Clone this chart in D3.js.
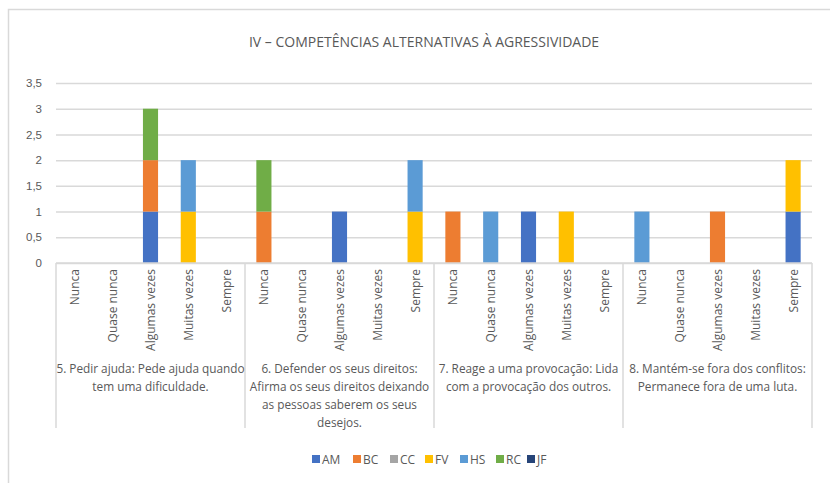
<!DOCTYPE html>
<html>
<head>
<meta charset="utf-8">
<script src="https://cdn.jsdelivr.net/npm/d3@7"></script>
<style>
  body { margin: 0; background: #fff; }
  svg { font-family: 'Open Sans', sans-serif; }
</style>
</head>
<body>
<div id="chart"></div>
<script>
// data
let groups = [
    ['5. Pedir ajuda: Pede ajuda quando', 'tem uma dificuldade.'],
    ['6. Defender os seus direitos:', 'Afirma os seus direitos deixando', 'as pessoas saberem os seus', 'desejos.'],
    ['7. Reage a uma provocação: Lida', 'com a provocação dos outros.'],
    ['8. Mantém-se fora dos conflitos:', 'Permanece fora de uma luta.']
]
let answers = ['Nunca', 'Quase nunca', 'Algumas vezes', 'Muitas vezes', 'Sempre']
let series = ['AM', 'BC', 'CC', 'FV', 'HS', 'RC', 'JF']
let colors = ['#4472C4', '#ED7D31', '#A5A5A5', '#FFC000', '#5B9BD5', '#70AD47', '#264478']
let yTicks = [0, 0.5, 1, 1.5, 2, 2.5, 3, 3.5]

// one array per series, 20 values: 4 groups x 5 answers
let AM = [0, 0, 1, 0, 0,  0, 0, 1, 0, 0,  0, 0, 1, 0, 0,  0, 0, 0, 0, 1]
let BC = [0, 0, 1, 0, 0,  1, 0, 0, 0, 0,  1, 0, 0, 0, 0,  0, 0, 1, 0, 0]
let CC = [0, 0, 0, 0, 0,  0, 0, 0, 0, 0,  0, 0, 0, 0, 0,  0, 0, 0, 0, 0]
let FV = [0, 0, 0, 1, 0,  0, 0, 0, 0, 1,  0, 0, 0, 1, 0,  0, 0, 0, 0, 1]
let HS = [0, 0, 0, 1, 0,  0, 0, 0, 0, 1,  0, 1, 0, 0, 0,  1, 0, 0, 0, 0]
let RC = [0, 0, 1, 0, 0,  1, 0, 0, 0, 0,  0, 0, 0, 0, 0,  0, 0, 0, 0, 0]
let JF = [0, 0, 0, 0, 0,  0, 0, 0, 0, 0,  0, 0, 0, 0, 0,  0, 0, 0, 0, 0]
let values = { AM, BC, CC, FV, HS, RC, JF }

let width = 830
let height = 483
let margin = { top: 83, right: 18, bottom: 220, left: 56 }
let plotW = width - margin.left - margin.right
let plotH = height - margin.top - margin.bottom
let textColor = '#595959'
let lineColor = '#d9d9d9'

let svg = d3.select('#chart').append('svg')
    .attr('width', width)
    .attr('height', height)

// outer frame
svg.append('rect')
    .attr('x', 8.5).attr('y', 9.5)
    .attr('width', width + 10).attr('height', height + 10)
    .attr('fill', 'none').attr('stroke', lineColor).attr('stroke-width', 1.5)

svg.append('text')
    .attr('x', 424).attr('y', 47)
    .attr('text-anchor', 'middle')
    .attr('fill', textColor)
    .style('font-size', '14px')
    .text('IV – COMPETÊNCIAS ALTERNATIVAS À AGRESSIVIDADE')

let g = svg.append('g')
    .attr('transform', 'translate(' + margin.left + ',' + margin.top + ')')

let keys = []
groups.forEach((grp, gi) => answers.forEach((a, ai) => keys.push(gi + '-' + ai)))

let table = keys.map((k, i) => {
    let row = { key: k }
    series.forEach(s => { row[s] = values[s][i] })
    return row
})

let x = d3.scaleBand().domain(keys).range([0, plotW]).paddingInner(0.6).paddingOuter(0.3)
let xGroup = d3.scaleBand().domain(d3.range(groups.length)).range([0, plotW])
let y = d3.scaleLinear().domain([0, 3.5]).range([plotH, 0])

// gridlines
g.append('g').attr('class', 'grid')
    .call(d3.axisLeft(y).tickValues(yTicks).tickSize(-plotW).tickFormat(''))
    .call(sel => sel.select('.domain').remove())
    .call(sel => sel.selectAll('line').attr('stroke', lineColor).attr('stroke-width', 1.5))

// y axis labels
g.append('g').attr('class', 'y-axis')
    .call(d3.axisLeft(y).tickValues(yTicks).tickSize(0).tickPadding(14)
        .tickFormat(d => String(d).replace('.', ',')))
    .call(sel => sel.select('.domain').remove())
    .call(sel => sel.selectAll('text').attr('fill', textColor).style('font-size', '11.5px'))

// stacked bars
let stack = d3.stack().keys(series)(table)
g.append('g').attr('class', 'bars')
    .selectAll('g')
    .data(stack)
    .enter()
    .append('g')
    .attr('fill', (d, i) => colors[i])
    .selectAll('rect')
    .data(d => d.filter(p => p[1] - p[0] > 0))
    .enter()
    .append('rect')
    .attr('x', d => x(d.data.key))
    .attr('y', d => y(d[1]))
    .attr('width', x.bandwidth())
    .attr('height', d => y(d[0]) - y(d[1]))

// category axis frame
let axisG = g.append('g').attr('class', 'x-axis')
axisG.append('line')
    .attr('x1', 0).attr('x2', plotW)
    .attr('y1', plotH).attr('y2', plotH)
    .attr('stroke', lineColor).attr('stroke-width', 1.5)
d3.range(groups.length + 1).forEach(i => {
    let xx = i < groups.length ? xGroup(i) : plotW
    axisG.append('line')
        .attr('x1', xx).attr('x2', xx)
        .attr('y1', plotH).attr('y2', plotH + 165)
        .attr('stroke', lineColor).attr('stroke-width', 1.5)
})

// answer labels (rotated)
axisG.selectAll('text.answer')
    .data(keys)
    .enter()
    .append('text')
    .attr('class', 'answer')
    .attr('transform', k => 'translate(' + (x(k) + x.bandwidth() / 2 + 4.5) + ',' + (plotH + 6) + ') rotate(-90)')
    .attr('text-anchor', 'end')
    .attr('fill', textColor)
    .style('font-size', '12px')
    .text(k => answers[+k.split('-')[1]])

// group labels
groups.forEach((lines, gi) => {
    let t = axisG.append('text')
        .attr('x', xGroup(gi) + xGroup.bandwidth() / 2)
        .attr('y', plotH + 110)
        .attr('text-anchor', 'middle')
        .attr('fill', textColor)
        .style('font-size', '11.8px')
    lines.forEach((ln, li) => {
        t.append('tspan')
            .attr('x', xGroup(gi) + xGroup.bandwidth() / 2)
            .attr('dy', li === 0 ? 0 : 18)
            .text(ln)
    })
})

// legend
let legendX = [312, 353, 390, 425, 460, 496, 527]
let legend = svg.append('g').attr('class', 'legend')
    .attr('transform', 'translate(0,459)')
series.forEach((s, i) => {
    let item = legend.append('g').attr('transform', 'translate(' + legendX[i] + ',0)')
    item.append('rect').attr('x', 0).attr('y', -4).attr('width', 8).attr('height', 8).attr('fill', colors[i])
    item.append('text').attr('x', 10).attr('y', 4.5).attr('fill', textColor)
        .style('font-size', '12px').text(s)
})
</script>
</body>
</html>
